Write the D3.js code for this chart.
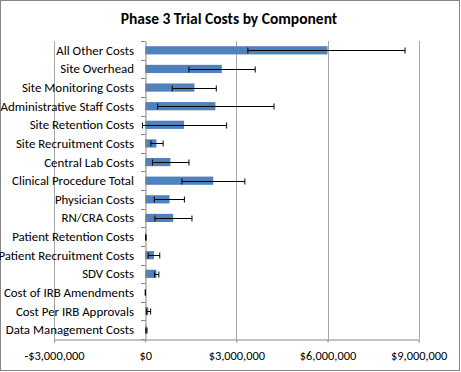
<!DOCTYPE html>
<html><head><meta charset="utf-8">
<script src="https://cdn.jsdelivr.net/npm/d3@7"></script>
<style>body{margin:0;background:#fff}svg{display:block}</style>
</head><body>
<svg id="c" width="461" height="372"></svg>
<script>
const categories = ["All Other Costs","Site Overhead","Site Monitoring Costs","Administrative Staff Costs","Site Retention Costs","Site Recruitment Costs","Central Lab Costs","Clinical Procedure Total","Physician Costs","RN/CRA Costs","Patient Retention Costs","Patient Recruitment Costs","SDV Costs","Cost of IRB Amendments","Cost Per IRB Approvals","Data Management Costs"];
const values   = [6000000,2520000,1620000,2310000,1280000,370000,830000,2240000,800000,920000,20000,290000,370000,5000,100000,40000];
const errLow   = [3380000,1440000,890000,410000,-90000,190000,240000,1210000,300000,320000,15000,100000,310000,0,50000,25000];
const errHigh  = [8550000,3620000,2340000,4240000,2680000,590000,1440000,3280000,1290000,1540000,30000,480000,450000,10000,180000,60000];
const xTicks   = [-3000000,0,3000000,6000000,9000000];
const title = "Phase 3 Trial Costs by Component";

const svg = d3.select("#c");
const font = "Carlito, Calibri, 'Liberation Sans Narrow', 'Open Sans', sans-serif";
svg.append("rect").attr("x",0.5).attr("y",0.5).attr("width",459).attr("height",370)
  .attr("fill","#fff").attr("stroke","#868686");

const x = d3.scaleLinear().domain([-3000000,9000000]).range([54,418.7]);
const y = d3.scaleBand().domain(categories).range([41,339]).paddingInner(0.56).paddingOuter(0.28);
const yb = d3.scaleBand().domain(categories).range([41,339]);

svg.append("text").attr("x",229).attr("y",24).attr("text-anchor","middle")
  .attr("font-family",font).attr("font-weight","bold").attr("font-size",15.5).text(title);

// gridlines
svg.append("g").selectAll("line").data(xTicks.filter(d=>d!==0)).join("line")
  .attr("x1",d=>Math.round(x(d))+0.5).attr("x2",d=>Math.round(x(d))+0.5)
  .attr("y1",41).attr("y2",339).attr("stroke","#a6a6a6").attr("stroke-width",1);

// bottom axis
const xa = svg.append("g").attr("transform","translate(0,339.5)")
  .call(d3.axisBottom(x).tickValues(xTicks).tickSize(3).tickSizeOuter(0)
    .tickFormat(d=> (d<0?"-$":"$")+d3.format(",")(Math.abs(d))));
xa.select(".domain").attr("stroke","#868686");
xa.selectAll(".tick line").attr("stroke","#868686");
xa.selectAll("text").attr("font-family",font).attr("font-size",12.4).attr("fill","#000").attr("dy","1.15em");

// bars
svg.append("g").selectAll("rect").data(values).join("rect")
  .attr("x",(d)=>x(Math.min(0,d))).attr("width",d=>Math.abs(x(d)-x(0)))
  .attr("y",(d,i)=>y(categories[i])).attr("height",y.bandwidth())
  .attr("fill","#4f81bd");

// category axis at zero
const ya = svg.append("g").attr("transform",`translate(${Math.round(x(0))+0.5},0)`)
  .call(d3.axisLeft(yb).tickSize(0).tickSizeOuter(0));
ya.select(".domain").attr("stroke","#868686");
ya.selectAll("text").remove();
svg.append("g").selectAll("line").data(d3.range(categories.length+1)).join("line")
  .attr("x1",Math.round(x(0))-4).attr("x2",Math.round(x(0))+0.5)
  .attr("y1",i=>Math.round(41+i*yb.step())+0.5).attr("y2",i=>Math.round(41+i*yb.step())+0.5)
  .attr("stroke","#868686");

// labels
svg.append("g").selectAll("text").data(categories).join("text")
  .attr("x",134).attr("y",d=>yb(d)+yb.bandwidth()/2).attr("dy","0.35em")
  .attr("text-anchor","end").attr("font-family",font).attr("font-size",12.9).text(d=>d);

// error bars
const eb = svg.append("g").attr("stroke","#000").attr("stroke-width",1);
categories.forEach((c,i)=>{
  const cy = Math.round(yb(c)+yb.bandwidth()/2)+0.5;
  eb.append("line").attr("x1",x(errLow[i])).attr("x2",x(errHigh[i])).attr("y1",cy).attr("y2",cy);
  [errLow[i],errHigh[i]].forEach(v=>{
    eb.append("line").attr("x1",x(v)).attr("x2",x(v)).attr("y1",cy-3).attr("y2",cy+3);
  });
});
</script>
</body></html>
